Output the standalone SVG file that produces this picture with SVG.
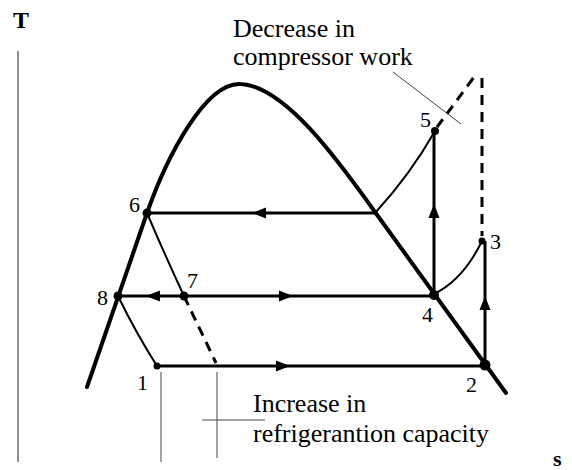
<svg xmlns="http://www.w3.org/2000/svg" width="572" height="470" viewBox="0 0 572 470">
<style>
.dome{fill:none;stroke:#000;stroke-width:4;stroke-linecap:round;stroke-linejoin:round}
.cyc{fill:none;stroke:#000;stroke-width:3}
.thin{fill:none;stroke:#000;stroke-width:2}
.dash{fill:none;stroke:#000;stroke-width:3;stroke-dasharray:10 7}
.lead{fill:none;stroke:#444;stroke-width:1}
.lbl{font-family:"Liberation Serif","Times New Roman",serif;font-size:22px;fill:#000}
.txt{font-family:"Liberation Serif","Times New Roman",serif;font-size:26px;fill:#000}
.ax{font-family:"Liberation Serif","Times New Roman",serif;font-size:24px;font-weight:bold;fill:#000}
</style>
<defs>
<path id="ah" d="M6,0 L-8,-5.5 L-8,5.5 Z" fill="#000"/>
</defs>
<rect width="572" height="470" fill="#fff"/>
<g id="axes">
<line x1="18" y1="51" x2="18" y2="462" stroke="#444" stroke-width="1.2"/>
<text class="ax" x="13" y="28">T</text>
<text class="ax" x="553" y="466" style="font-size:22px">s</text>
</g>
<g id="dome">
<path class="dome" d="M87,387 L147,213 C167,156 205,84 239,84 C284,84 340,163 375,212 L506,393"/>
</g>
<g id="connectors">
<line class="cyc" x1="147" y1="213" x2="375" y2="213"/>
<line class="cyc" x1="118" y1="296" x2="434" y2="296"/>
<line class="cyc" x1="157" y1="366" x2="485" y2="366"/>
<line class="cyc" x1="434" y1="296" x2="434" y2="131"/>
<line class="cyc" x1="485" y1="366" x2="485" y2="241"/>
<path class="thin" d="M375,213 Q410,175 435,131"/>
<path class="thin" d="M434,294 Q463,280 482,241"/>
<path class="thin" d="M147,213 Q164,253 184,296"/>
<path class="thin" d="M118,296 Q136,333 157,366"/>
<path class="dash" d="M184,296 L216,363"/>
<path class="dash" d="M437,127 Q455,103 474,77"/>
<line class="dash" x1="482" y1="78" x2="482" y2="236"/>
<use href="#ah" transform="translate(258,213) rotate(180)"/>
<use href="#ah" transform="translate(152,296) rotate(180)"/>
<use href="#ah" transform="translate(287,296)"/>
<use href="#ah" transform="translate(284,366)"/>
<use href="#ah" transform="translate(434,210) rotate(-90)"/>
<use href="#ah" transform="translate(485,302) rotate(-90)"/>
</g>
<g id="leaders">
<line class="lead" x1="393" y1="72" x2="461" y2="124"/>
<line class="lead" x1="161" y1="372" x2="161" y2="462"/>
<line class="lead" x1="217" y1="372" x2="217" y2="458"/>
<line class="lead" x1="202" y1="420" x2="265" y2="420"/>
</g>
<g id="p6"><circle cx="147" cy="213" r="4.5"/><text class="lbl" x="129" y="212">6</text></g>
<g id="p7"><circle cx="184" cy="296" r="4.5"/><text class="lbl" x="187" y="288">7</text></g>
<g id="p8"><circle cx="118" cy="296" r="4.5"/><text class="lbl" x="97" y="305">8</text></g>
<g id="p1"><circle cx="157" cy="366" r="3.5"/><text class="lbl" x="137" y="390">1</text></g>
<g id="p2"><circle cx="485" cy="365" r="5.5"/><text class="lbl" x="466" y="392">2</text></g>
<g id="p3"><circle cx="482" cy="241" r="3.5"/><text class="lbl" x="490" y="249">3</text></g>
<g id="p4"><circle cx="434" cy="295" r="5"/><text class="lbl" x="422" y="322">4</text></g>
<g id="p5"><circle cx="435" cy="131" r="4"/><text class="lbl" x="420" y="127">5</text></g>
<g id="notes">
<text class="txt" x="233" y="37">Decrease in</text>
<text class="txt" x="233" y="65">compressor work</text>
<text class="txt" x="253" y="412">Increase in</text>
<text class="txt" x="253" y="442">refrigerantion capacity</text>
</g>
</svg>
